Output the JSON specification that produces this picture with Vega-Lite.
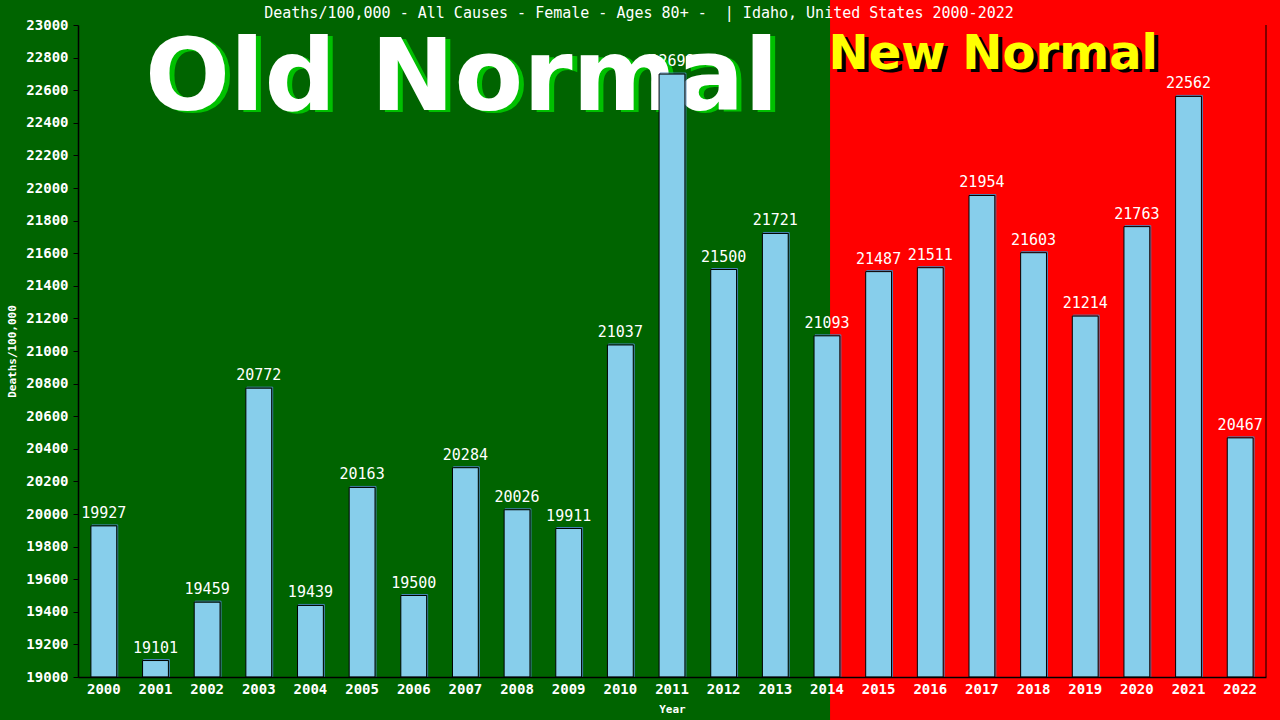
{
  "$schema": "https://vega.github.io/schema/vega-lite/v6.json",
  "description": "Deaths per 100,000, all causes, female 80+, Idaho 2000-2022",
  "width": 1188,
  "height": 652,
  "autosize": {"type": "none"},
  "padding": {"left": 78, "top": 25, "right": 14, "bottom": 43},
  "background": "#006400",
  "title": {
    "text": "Deaths/100,000 - All Causes - Female - Ages 80+ - \u00a0| Idaho, United States 2000-2022",
    "color": "white",
    "font": "DejaVu Sans Mono",
    "fontSize": 15,
    "fontWeight": "normal",
    "anchor": "middle",
    "frame": "group",
    "baseline": "bottom",
    "dx": -33,
    "offset": -36,
    "zindex": 2
  },
  "datasets": {
    "deaths": [
      {"year": "2000", "rate": 19927},
      {"year": "2001", "rate": 19101},
      {"year": "2002", "rate": 19459},
      {"year": "2003", "rate": 20772},
      {"year": "2004", "rate": 19439},
      {"year": "2005", "rate": 20163},
      {"year": "2006", "rate": 19500},
      {"year": "2007", "rate": 20284},
      {"year": "2008", "rate": 20026},
      {"year": "2009", "rate": 19911},
      {"year": "2010", "rate": 21037},
      {"year": "2011", "rate": 22699},
      {"year": "2012", "rate": 21500},
      {"year": "2013", "rate": 21721},
      {"year": "2014", "rate": 21093},
      {"year": "2015", "rate": 21487},
      {"year": "2016", "rate": 21511},
      {"year": "2017", "rate": 21954},
      {"year": "2018", "rate": 21603},
      {"year": "2019", "rate": 21214},
      {"year": "2020", "rate": 21763},
      {"year": "2021", "rate": 22562},
      {"year": "2022", "rate": 20467}
    ],
    "zone": [{"p": 14.56, "p2": 23.4, "lo": 18700, "hi": 23153}],
    "frame": [{"p": 23, "lo": 19000, "hi": 23000}],
    "banners": [
      {"label": "Old Normal", "p": 7.43, "v": 22478},
      {"label": "New Normal", "p": 17.72, "v": 22730}
    ]
  },
  "layer": [
    {
      "layer": [
        {
          "data": {"name": "zone"},
          "mark": {"type": "rect", "fill": "#FF0000", "clip": false},
          "encoding": {
            "x": {"field": "p", "type": "quantitative", "scale": {"domain": [0, 23], "nice": false, "zero": false}, "axis": null},
            "x2": {"field": "p2"},
            "y": {"field": "lo", "type": "quantitative", "scale": {"domain": [19000, 23000], "nice": false, "zero": false}, "axis": null},
            "y2": {"field": "hi"}
          }
        },
        {
          "data": {"name": "frame"},
          "mark": {"type": "rule", "color": "black", "strokeWidth": 1},
          "encoding": {
            "x": {"field": "p", "type": "quantitative", "axis": null},
            "y": {"field": "lo", "type": "quantitative", "axis": null},
            "y2": {"field": "hi"}
          }
        },
        {
          "data": {"name": "banners"},
          "transform": [{"filter": "datum.label == 'Old Normal'"}],
          "mark": {"type": "text", "font": "DejaVu Sans", "fontWeight": "bold", "fontSize": 100, "align": "center", "baseline": "alphabetic", "color": "#00C000", "dx": 5, "dy": 2},
          "encoding": {
            "x": {"field": "p", "type": "quantitative", "axis": null},
            "y": {"field": "v", "type": "quantitative", "axis": null},
            "text": {"field": "label"}
          }
        },
        {
          "data": {"name": "banners"},
          "transform": [{"filter": "datum.label == 'Old Normal'"}],
          "mark": {"type": "text", "font": "DejaVu Sans", "fontWeight": "bold", "fontSize": 100, "align": "center", "baseline": "alphabetic", "color": "white"},
          "encoding": {
            "x": {"field": "p", "type": "quantitative", "axis": null},
            "y": {"field": "v", "type": "quantitative", "axis": null},
            "text": {"field": "label"}
          }
        },
        {
          "data": {"name": "banners"},
          "transform": [{"filter": "datum.label == 'New Normal'"}],
          "mark": {"type": "text", "font": "DejaVu Sans", "fontWeight": "bold", "fontSize": 48, "align": "center", "baseline": "alphabetic", "color": "black", "dx": 4, "dy": 3},
          "encoding": {
            "x": {"field": "p", "type": "quantitative", "axis": null},
            "y": {"field": "v", "type": "quantitative", "axis": null},
            "text": {"field": "label"}
          }
        },
        {
          "data": {"name": "banners"},
          "transform": [{"filter": "datum.label == 'New Normal'"}],
          "mark": {"type": "text", "font": "DejaVu Sans", "fontWeight": "bold", "fontSize": 48, "align": "center", "baseline": "alphabetic", "color": "#FFFF00"},
          "encoding": {
            "x": {"field": "p", "type": "quantitative", "axis": null},
            "y": {"field": "v", "type": "quantitative", "axis": null},
            "text": {"field": "label"}
          }
        }
      ]
    },
    {
      "data": {"name": "deaths"},
      "encoding": {
        "x": {
          "field": "year",
          "type": "ordinal",
          "scale": {"paddingInner": 0.5, "paddingOuter": 0.25},
          "axis": {
            "title": "Year",
            "titleColor": "white",
            "titleFont": "DejaVu Sans Mono",
            "titleFontSize": 11,
            "titleFontWeight": "bold",
            "titlePadding": 7,
            "labelColor": "white",
            "labelFont": "DejaVu Sans Mono",
            "labelFontSize": 14,
            "labelFontWeight": "bold",
            "labelAngle": 0,
            "labelPadding": 5,
            "ticks": false,
            "domainColor": "black",
            "domainWidth": 1.5,
            "zindex": 1
          }
        },
        "y": {
          "field": "rate",
          "type": "quantitative",
          "scale": {"domain": [19000, 23000], "nice": false, "zero": false},
          "axis": {
            "title": "Deaths/100,000",
            "titleColor": "white",
            "titleFont": "DejaVu Sans Mono",
            "titleFontSize": 11,
            "titleFontWeight": "bold",
            "titlePadding": 8,
            "labelColor": "white",
            "labelFont": "DejaVu Sans Mono",
            "labelFontSize": 14,
            "labelFontWeight": "bold",
            "labelPadding": 5,
            "labelOverlap": false,
            "format": "d",
            "values": [19000, 19200, 19400, 19600, 19800, 20000, 20200, 20400, 20600, 20800, 21000, 21200, 21400, 21600, 21800, 22000, 22200, 22400, 22600, 22800, 23000],
            "tickColor": "black",
            "tickSize": 5,
            "domainColor": "black",
            "domainWidth": 1.5,
            "grid": false,
            "zindex": 1
          }
        }
      },
      "layer": [
        {
          "mark": {"type": "bar", "fill": null, "stroke": "#4682B4", "strokeWidth": 1, "xOffset": 1, "yOffset": -1},
          "encoding": {"y2": {"datum": 19000}}
        },
        {
          "mark": {"type": "bar", "fill": "#87CEEB", "stroke": "black", "strokeWidth": 1},
          "encoding": {"y2": {"datum": 19000}}
        },
        {
          "mark": {"type": "text", "color": "white", "font": "DejaVu Sans Mono", "fontSize": 15, "baseline": "alphabetic", "dy": -8},
          "encoding": {"text": {"field": "rate", "type": "quantitative", "format": "d"}}
        }
      ]
    }
  ],
  "resolve": {"scale": {"x": "independent", "y": "independent"}},
  "config": {"view": {"stroke": null}}
}
